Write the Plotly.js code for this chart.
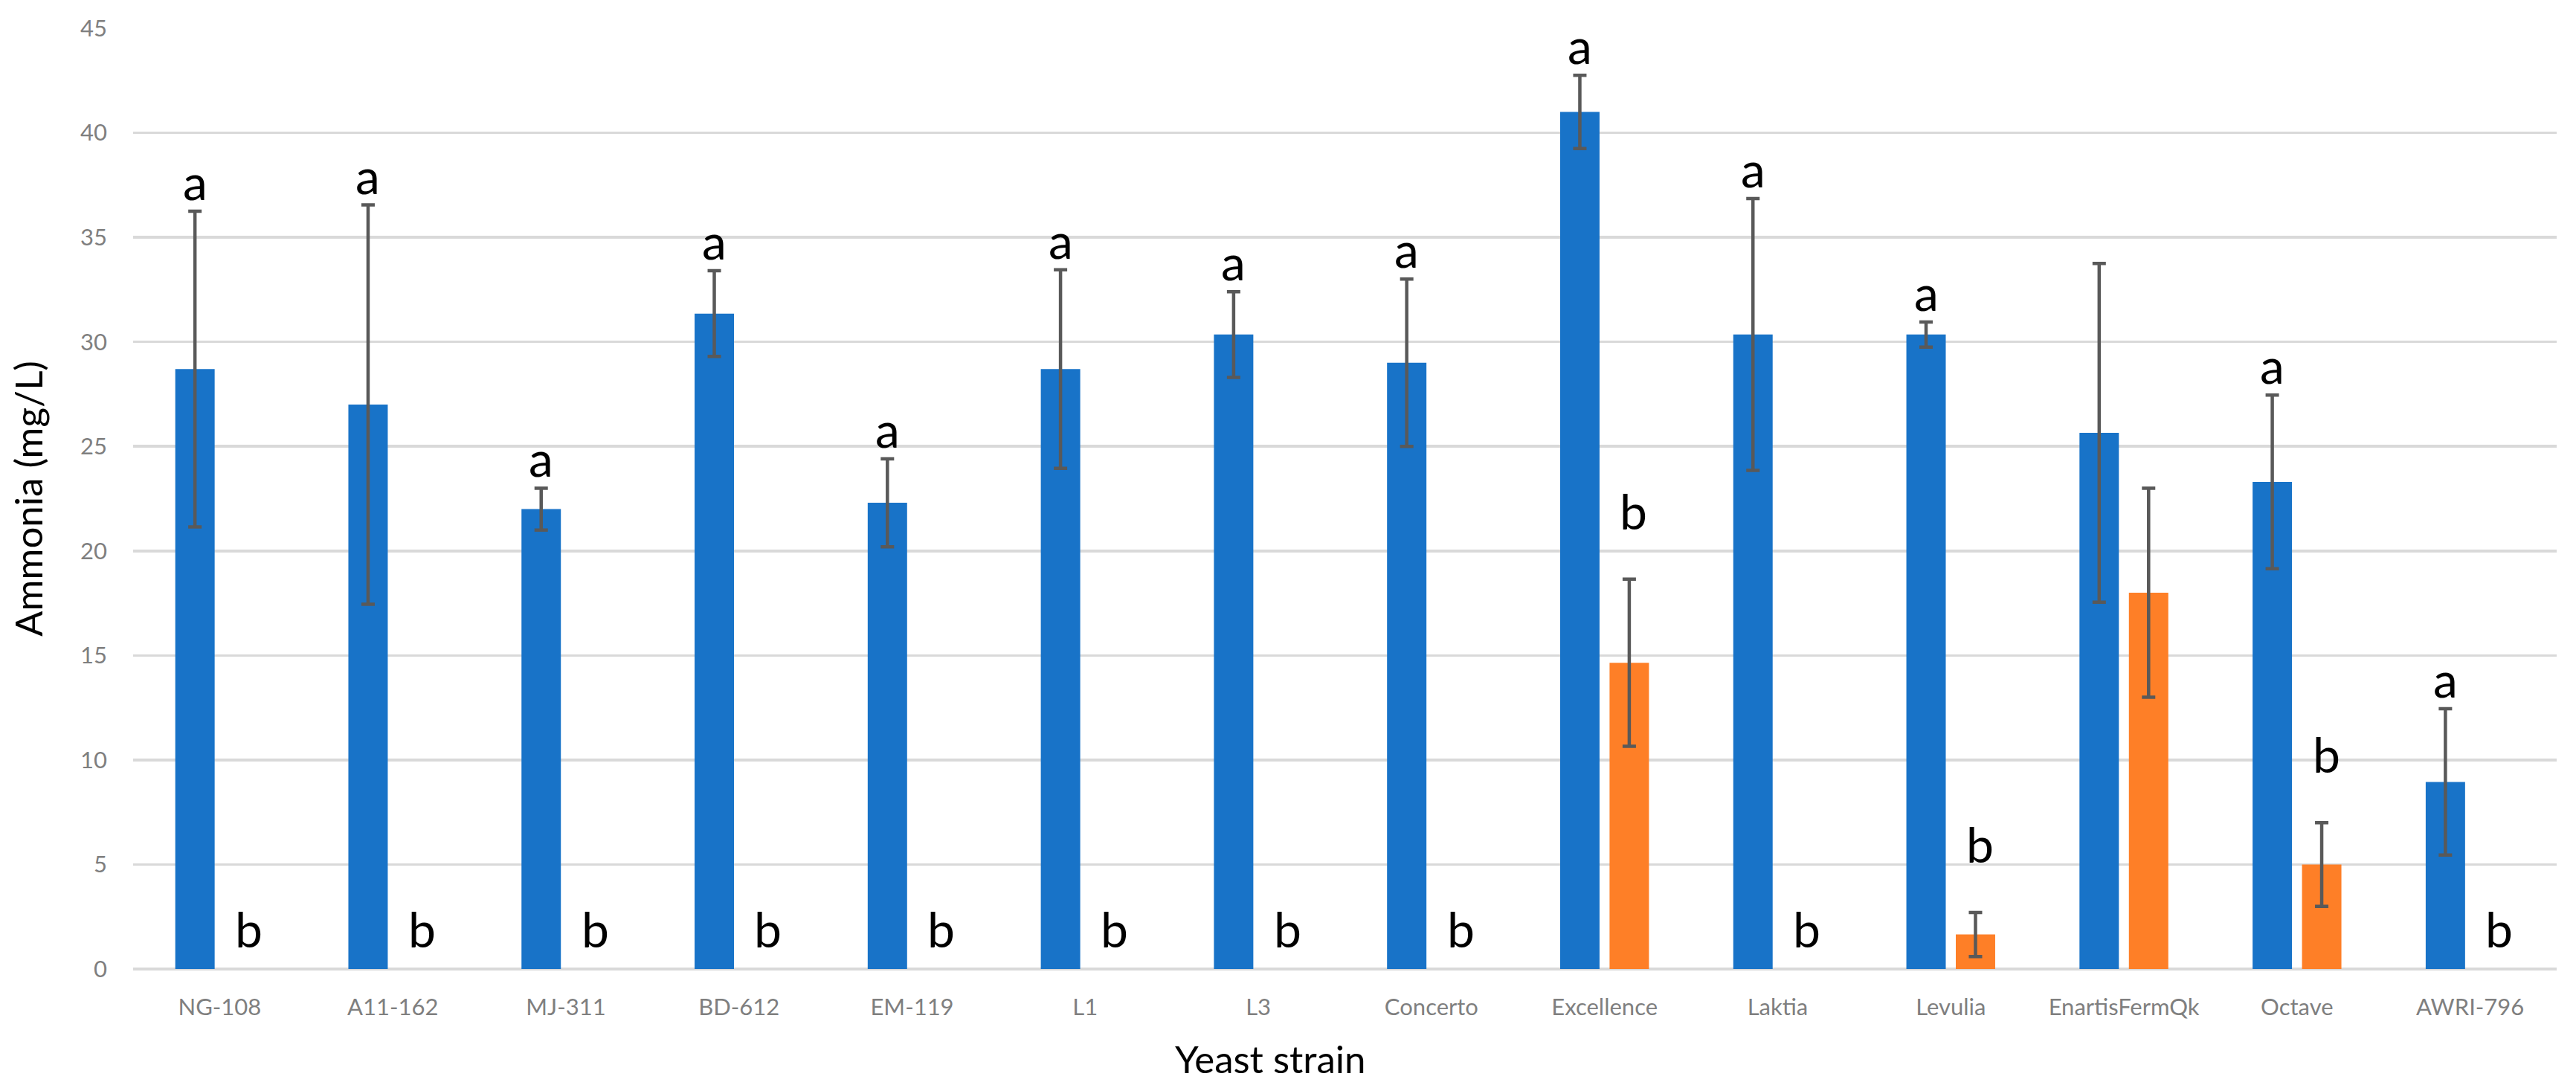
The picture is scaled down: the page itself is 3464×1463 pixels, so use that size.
<!DOCTYPE html>
<html>
<head>
<meta charset="utf-8">
<script src="https://cdn.plot.ly/plotly-3.0.1.min.js"></script>
<style>html,body{margin:0;padding:0;background:#fff;}</style>
</head>
<body>
<div id="chart" style="width:3464px;height:1463px;"></div>
<script>
const categories = ['NG-108','A11-162','MJ-311','BD-612','EM-119','L1','L3','Concerto','Excellence','Laktia','Levulia','EnartisFermQk','Octave','AWRI-796'];
const blueValues = [28.7, 27.0, 22.0, 31.35, 22.3, 28.7, 30.35, 29.0, 41.0, 30.35, 30.35, 25.65, 23.3, 8.95];
const blueErrors = [7.55, 9.55, 1.0, 2.05, 2.1, 4.75, 2.05, 4.0, 1.75, 6.5, 0.6, 8.1, 4.15, 3.5];
const orangeValues = [0, 0, 0, 0, 0, 0, 0, 0, 14.65, 0, 1.65, 18.0, 5.0, 0];
const orangeErrors = [0, 0, 0, 0, 0, 0, 0, 0, 4.0, 0, 1.05, 5.0, 2.0, 0];
const blueLetters = ['a','a','a','a','a','a','a','a','a','a','a','','a','a'];
const orangeLetters = ['b','b','b','b','b','b','b','b','b','b','b','','b','b'];
const yTicks = [0, 5, 10, 15, 20, 25, 30, 35, 40, 45];

const BLUE = '#1873C8';
const ORANGE = '#FE7F27';
const ERR = '#595959';
const BARGAP = 0.429;
const slot = (1 - BARGAP) / 2;

const errStyle = (arr) => ({
  type: 'data', array: arr, visible: true, symmetric: true,
  color: ERR, thickness: 4.5, width: 9
});

const traces = [
  {
    type: 'bar', x: categories, y: blueValues, marker: {color: BLUE, line: {width: 0}},
    error_y: errStyle(blueErrors), name: 'blue', hoverinfo: 'x+y'
  },
  {
    type: 'bar', x: categories, y: orangeValues.map(v => v > 0 ? v : null),
    marker: {color: ORANGE, line: {width: 0}},
    error_y: errStyle(orangeErrors), name: 'orange', hoverinfo: 'x+y'
  }
];

const letterFont = {family: 'Lato, "Open Sans", sans-serif', size: 66, color: '#000000'};
const annotations = [];
categories.forEach((c, i) => {
  if (blueLetters[i]) {
    annotations.push({
      xref: 'x', yref: 'y', x: i - slot / 2, y: blueValues[i] + blueErrors[i],
      text: blueLetters[i], showarrow: false, xanchor: 'center', yanchor: 'bottom',
      yshift: 0, font: letterFont, borderpad: 0
    });
  }
  if (orangeLetters[i]) {
    const hasBar = orangeValues[i] > 0;
    annotations.push({
      xref: 'x', yref: 'y', x: i + slot / 2, y: hasBar ? orangeValues[i] + orangeErrors[i] : 0,
      text: orangeLetters[i], showarrow: false, xanchor: 'center', yanchor: 'bottom',
      xshift: 6, yshift: hasBar ? 52 : 14, font: letterFont, borderpad: 0
    });
  }
});
annotations.push({
  xref: 'paper', yref: 'paper', x: (1708 - 179) / (3438 - 179), y: 0, yshift: -120,
  xanchor: 'center', yanchor: 'middle', showarrow: false, text: 'Yeast strain',
  font: {family: 'Lato, "Open Sans", sans-serif', size: 51, color: '#000000'}
});

const layout = {
  width: 3464, height: 1463,
  margin: {l: 179, r: 26, t: 38, b: 160, pad: 0},
  paper_bgcolor: '#ffffff', plot_bgcolor: '#ffffff',
  font: {family: 'Lato, "Open Sans", sans-serif', color: '#7f7f7f'},
  showlegend: false,
  barmode: 'group', bargap: BARGAP, bargroupgap: 0.203,
  xaxis: {
    type: 'category', categoryorder: 'array', categoryarray: categories,
    range: [-0.5, categories.length - 0.5],
    showgrid: false, showline: false, zeroline: false,
    ticks: '', tickfont: {size: 31, color: '#7f7f7f'}, ticklabelstandoff: 30,
    automargin: false
  },
  yaxis: {
    range: [0, 45], tickmode: 'array', tickvals: yTicks, ticktext: yTicks.map(String),
    showgrid: true, gridcolor: '#d9d9d9', gridwidth: 3.5,
    zeroline: true, zerolinecolor: '#d9d9d9', zerolinewidth: 3.5,
    showline: false, ticks: '', tickfont: {size: 31, color: '#7f7f7f'}, ticklabelstandoff: 34,
    title: {text: 'Ammonia (mg/L)', font: {size: 51, color: '#000000'}, standoff: 34},
    automargin: false
  },
  annotations: annotations
};

Plotly.newPlot('chart', traces, layout, {staticPlot: true, displayModeBar: false});
</script>
</body>
</html>
